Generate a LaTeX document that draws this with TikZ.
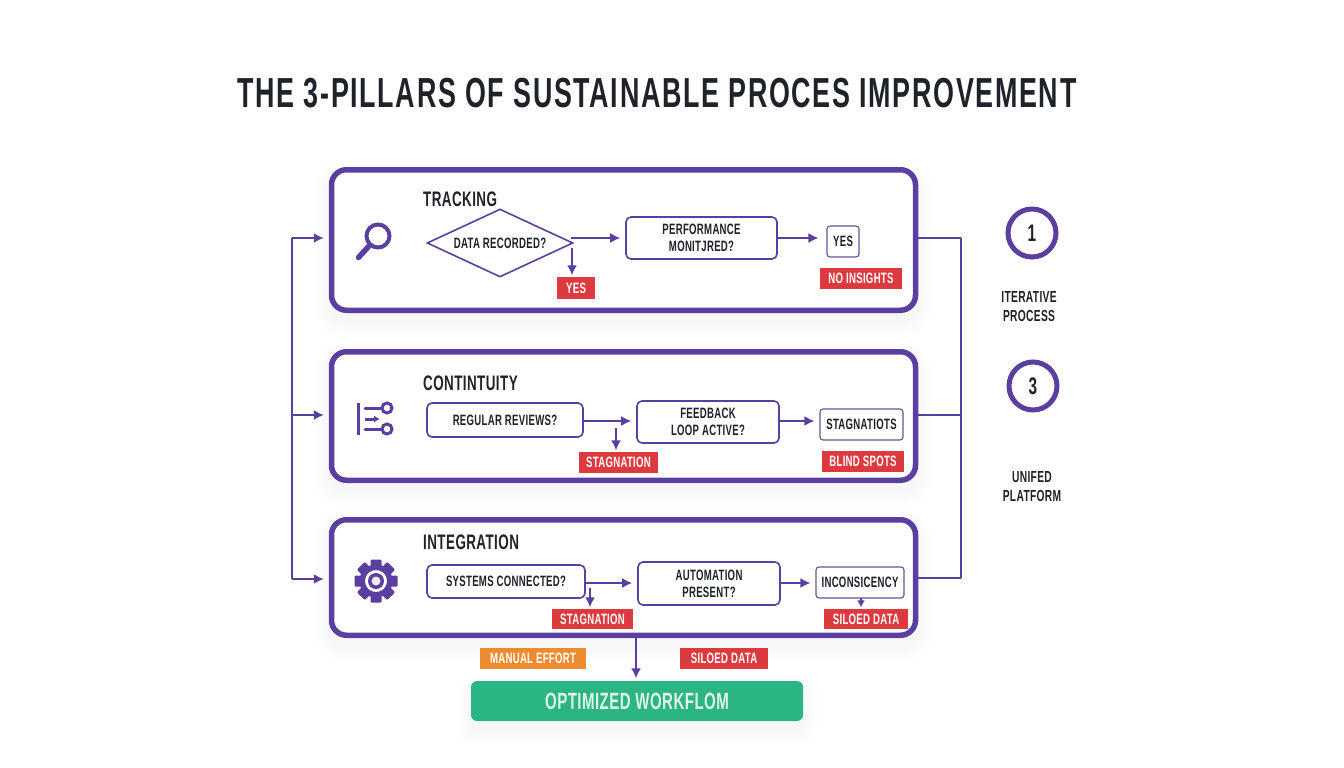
\documentclass[tikz,border=0pt]{standalone}
\usepackage{fontspec}
\setmainfont[FakeStretch=0.64,LetterSpace=2]{Liberation Sans}
\usetikzlibrary{arrows.meta,backgrounds,calc,shapes.geometric}
\definecolor{pillarpurple}{HTML}{5A3FA0}
\definecolor{inkdark}{HTML}{1F2228}
\definecolor{tagred}{HTML}{DC3A3F}
\definecolor{tagorange}{HTML}{EE8B2F}
\definecolor{okgreen}{HTML}{2BB583}
\tikzset{
  pillar/.style={draw=pillarpurple,fill=white,line width=5.5pt,rounded corners=15pt,inner sep=0pt},
  heading/.style={font=\fontsize{21}{23}\selectfont\bfseries,text=inkdark,anchor=west,inner sep=0pt},
  askbox/.style={draw=pillarpurple,fill=white,line width=1.6pt,rounded corners=5pt,inner sep=0pt,align=center,
    text=inkdark,font=\fontsize{15}{17}\selectfont\bfseries},
  askdiamond/.style={askbox,shape=diamond,rounded corners=0pt,aspect=2.1},
  endbox/.style={askbox,draw=pillarpurple!70!gray,line width=1.1pt,rounded corners=3pt},
  tag/.style={fill=tagred,text=white,inner sep=0pt,font=\fontsize{15}{17}\selectfont\bfseries},
  flow/.style={draw=pillarpurple,line width=1.8pt,-{Latex[length=10pt,width=10pt]}},
  bus/.style={draw=pillarpurple,line width=1.8pt},
  badge/.style={shape=circle,draw=pillarpurple,fill=white,line width=5pt,minimum size=48pt,inner sep=0pt,
    text=inkdark,font=\fontsize{24}{26}\selectfont\bfseries},
  sidenote/.style={align=center,text=inkdark,inner sep=0pt,font=\fontsize{16}{19}\selectfont\bfseries},
  icon/.style={draw=pillarpurple,line width=4pt,line cap=round}
}
\begin{document}
\begin{tikzpicture}[x=1pt,y=-1pt]
  \useasboundingbox (0,0) rectangle (1344,768);

  \node[inner sep=0pt,text=inkdark,font=\fontsize{42}{44}\selectfont\bfseries\addfontfeature{LetterSpace=4}] (title) at (657,93)
    {THE 3-PILLARS OF SUSTAINABLE PROCES IMPROVEMENT};

  % pillars
  \node[pillar,minimum width=584pt,minimum height=140.5pt] (track) at (623.5,240) {};
  \node[pillar,minimum width=584pt,minimum height=128.5pt] (cont) at (623.5,416) {};
  \node[pillar,minimum width=584pt,minimum height=115.5pt] (integ) at (623.5,577.5) {};

  \node[heading] (trackhead) at (423,199) {TRACKING};
  \node[heading] (conthead) at (423,383) {CONTINTUITY};
  \node[heading] (integhead) at (423,542) {INTEGRATION};

  % tracking row
  \node[askdiamond,minimum width=146pt,minimum height=68pt] (dataq) at (500,243) {DATA RECORDED?};
  \node[askbox,minimum width=151pt,minimum height=42pt] (perfq) at (701.5,238) {PERFORMANCE\\MONITJRED?};
  \node[endbox,minimum width=32pt,minimum height=31pt] (yesend) at (843,241.5) {YES};
  \node[tag,minimum width=38pt,minimum height=22pt] (yestag) at (576,288) {YES};
  \node[tag,minimum width=82pt,minimum height=21pt] (notag) at (861,278.5) {NO INSIGHTS};

  % continuity row
  \node[askbox,minimum width=156pt,minimum height=34pt] (revq) at (505,420) {REGULAR REVIEWS?};
  \node[askbox,minimum width=142pt,minimum height=42pt] (feedq) at (708,422) {FEEDBACK\\LOOP ACTIVE?};
  \node[endbox,minimum width=83pt,minimum height=31pt] (stagend) at (861.5,424.5) {STAGNATIOTS};
  \node[tag,minimum width=79pt,minimum height=21pt] (stagtag) at (618.5,462.5) {STAGNATION};
  \node[tag,minimum width=82pt,minimum height=21pt] (blindtag) at (863,461.5) {BLIND SPOTS};

  % integration row
  \node[askbox,minimum width=158pt,minimum height=33pt] (sysq) at (506,581.5) {SYSTEMS CONNECTED?};
  \node[askbox,minimum width=142pt,minimum height=43pt] (autoq) at (709,583.5) {AUTOMATION\\PRESENT?};
  \node[endbox,minimum width=88pt,minimum height=31pt] (incend) at (860,582.5) {INCONSICENCY};
  \node[tag,minimum width=81pt,minimum height=20pt] (stagtagb) at (592.5,619) {STAGNATION};
  \node[tag,minimum width=84pt,minimum height=20pt] (silotag) at (866,619) {SILOED DATA};

  % below the pillars
  \node[tag,fill=tagorange,minimum width=106pt,minimum height=21pt] (manualtag) at (533,658.5) {MANUAL EFFORT};
  \node[tag,minimum width=88pt,minimum height=21pt] (silotagb) at (724,658.5) {SILOED DATA};
  \node[fill=okgreen,rounded corners=6pt,inner sep=0pt,minimum width=332pt,minimum height=40pt,
    text=white!85!okgreen,font=\fontsize{23.5}{25}\selectfont\bfseries] (result) at (637,701) {OPTIMIZED WORKFLOM};

  % right side
  \node[badge] (badgeone) at (1032,233) {1};
  \node[badge] (badgethree) at (1033,386) {3};
  \node[sidenote] (iterate) at (1029,306.5) {ITERATIVE\\PROCESS};
  \node[sidenote] (unified) at (1032,487) {UNIFED\\PLATFORM};

  % connectors
  \coordinate (lefttop) at (292,238);
  \coordinate (leftmid) at (292,415);
  \coordinate (leftlow) at (292,579);
  \coordinate (righttop) at (961,238);
  \coordinate (rightmid) at (961,415);
  \coordinate (rightlow) at (961,578);
  \coordinate (dataqdown) at (572,248);
  \coordinate (revqdown) at (616,428);
  \coordinate (sysqdown) at (590,588);
  \coordinate (incdown) at (861,598);
  \coordinate (integdown) at (636,637);

  \draw[bus] (leftlow) -- (lefttop);
  \draw[bus] (righttop) -- (rightlow);
  \begin{scope}[every path/.style={flow,shorten >=5pt}]
    \draw (lefttop) -- (lefttop -| track.west);
    \draw (leftmid) -- (leftmid -| cont.west);
    \draw (leftlow) -- (leftlow -| integ.west);
    \draw ($(dataq.east |- perfq.west)+(-3,0)$) -- (perfq.west);
    \draw (perfq.east) -- ($(perfq.east -| yesend.west)+(-3,0)$);
    \draw (revq.east |- 0,421) -- (feedq.west |- 0,421);
    \draw (feedq.east |- 0,421) -- (stagend.west |- 0,421);
    \draw (sysq.east |- 0,583) -- (autoq.west |- 0,583);
    \draw (autoq.east |- 0,583) -- (incend.west |- 0,583);
  \end{scope}
  \begin{scope}[every path/.style={flow,shorten >=1.5pt}]
    \draw (dataqdown) -- (dataqdown |- yestag.north);
    \draw (revqdown) -- (revqdown |- stagtag.north);
    \draw (sysqdown) -- (sysqdown |- stagtagb.north);
    \draw[-{Latex[length=7pt,width=8pt]}] (incdown) -- (incdown |- silotag.north);
    \draw (integdown) -- ($(integdown |- result.north)+(0,-1)$);
  \end{scope}
  \draw[bus] (track.east |- righttop) -- (righttop);
  \draw[bus] (cont.east |- rightmid) -- (rightmid);
  \draw[bus] (integ.east |- rightlow) -- (rightlow);

  % icons
  \draw[icon] (378,236) circle (11.5);
  \draw[icon,line width=5.5pt] (369,246) -- (358.5,257.5);
  \draw[icon,line cap=butt,line width=3pt] (358,403) -- (358,435);
  \draw[icon,line width=3pt] (365,408) -- (381,408);
  \draw[icon,line width=3pt] (365,429) -- (381,429);
  \draw[icon,line width=3pt] (387,408) circle (5);
  \draw[icon,line width=3pt] (387,429) circle (5);
  \draw[flow,line width=3pt,-{Latex[length=6pt,width=7pt]}] (365,419) -- (380,419);
  \foreach \a in {0,45,...,315}
    \fill[pillarpurple,rounded corners=1pt,rotate around={\a:(376,581)}] (370.5,559.5) rectangle (381.5,572);
  \fill[pillarpurple] (376,581) circle (16.5);
  \fill[white] (376,581) circle (11);
  \fill[pillarpurple] (376,581) circle (8);
  \fill[white!90!pillarpurple] (376,581) circle (4.5);

  % soft shadows
  \begin{scope}[on background layer]
    \fill[white] (0,0) rectangle (1344,768);
    \foreach \n/\r in {track/15,cont/15,integ/15,result/6}
      \foreach \e in {1,3,...,15}
        \fill[black,opacity=.005,rounded corners=\r pt+\e pt]
          ($(\n.north west)+(-\e,-\e+9)$) rectangle ($(\n.south east)+(\e,\e+9)$);
  \end{scope}
\end{tikzpicture}
\end{document}
